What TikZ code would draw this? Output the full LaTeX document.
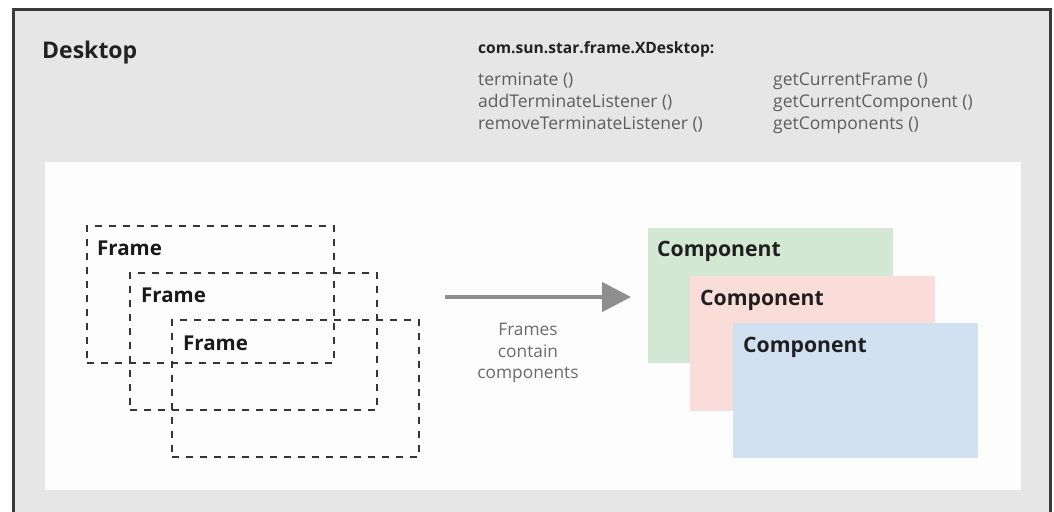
\documentclass[tikz,border=0pt]{standalone}
\usepackage{fontspec}
\setmainfont{Open Sans}
\usetikzlibrary{arrows.meta}
\definecolor{bggray}{HTML}{E6E6E6}
\definecolor{bordercol}{HTML}{3A3A3A}
\definecolor{panelwhite}{HTML}{FDFDFD}
\definecolor{dashcol}{HTML}{353535}
\definecolor{compgreen}{HTML}{D3E8D3}
\definecolor{comppink}{HTML}{FADDD8}
\definecolor{compblue}{HTML}{D2E1F2}
\definecolor{methodcol}{HTML}{5E5E5E}
\definecolor{headcol}{HTML}{222222}
\definecolor{arrowcol}{HTML}{8E8E8E}
\definecolor{notecol}{HTML}{6A6A6A}
\tikzset{
  txt/.style={inner sep=0pt, anchor=base west},
  title/.style={txt, font=\fontsize{23}{26}\selectfont\bfseries, text=headcol},
  header/.style={txt, font=\fontsize{15.6}{18}\selectfont\bfseries, text=headcol},
  method/.style={txt, font=\fontsize{17.5}{20}\selectfont, text=methodcol},
  framebox/.style={draw=dashcol, line width=2pt, dash pattern=on 7pt off 7pt, anchor=north west, inner sep=0pt, minimum width=247pt, minimum height=137pt},
  framelbl/.style={txt, font=\fontsize{20.5}{24}\selectfont\bfseries, text=black!90},
  compbox/.style={anchor=north west, inner sep=0pt, minimum width=245pt, minimum height=135pt},
  complbl/.style={txt, font=\fontsize{21.2}{24}\selectfont\bfseries, text=black!88},
  note/.style={inner sep=0pt, align=center, font=\fontsize{17.3}{21.5}\selectfont, text=notecol},
}
\begin{document}
\begin{tikzpicture}[x=1pt,y=-1pt]
\useasboundingbox (0,0) rectangle (1054,511);
\clip (0,0) rectangle (1054,511);
\fill[white] (0,0) rectangle (1054,511);
% outer desktop box
\draw[line width=3pt, draw=bordercol, fill=bggray] (13,10) rectangle (1050,545);
% white panel
\fill[panelwhite] (45,162) rectangle (1021,490);
% texts of the desktop
\node[title] (desk) at (42,59) {Desktop};
\node[header] (hdr) at (478,53) {com.sun.star.frame.XDesktop:};
\node[method] (m1) at (478,85) {terminate ()};
\node[method] (m2) at (478,107) {addTerminateListener ()};
\node[method] (m3) at (478,129) {removeTerminateListener ()};
\node[method] (m4) at (773,85) {getCurrentFrame ()};
\node[method] (m5) at (773,107) {getCurrentComponent ()};
\node[method] (m6) at (773,129) {getComponents ()};
% frames
\node[framebox] (f1) at (86,225) {};
\node[framebox] (f2) at (129,272) {};
\node[framebox] (f3) at (171,319) {};
\node[framelbl] (fl1) at (97,255) {Frame};
\node[framelbl] (fl2) at (141,302) {Frame};
\node[framelbl] (fl3) at (183,350) {Frame};
% arrow
\coordinate (as) at (445,297);
\coordinate (ae) at (631,297);
\draw[draw=arrowcol, line width=4.5pt, -{Triangle[length=29pt,width=29pt]}] (as) -- (ae);
\node[note] (nt) at (528,353) {Frames\\contain\\components};
% components
\node[compbox, fill=compgreen] (c1) at (648,228) {};
\node[compbox, fill=comppink] (c2) at (690,276) {};
\node[compbox, fill=compblue] (c3) at (733,323) {};
\node[complbl] (cl1) at (657,256) {Component};
\node[complbl] (cl2) at (700,305) {Component};
\node[complbl] (cl3) at (743,352) {Component};
\end{tikzpicture}
\end{document}
